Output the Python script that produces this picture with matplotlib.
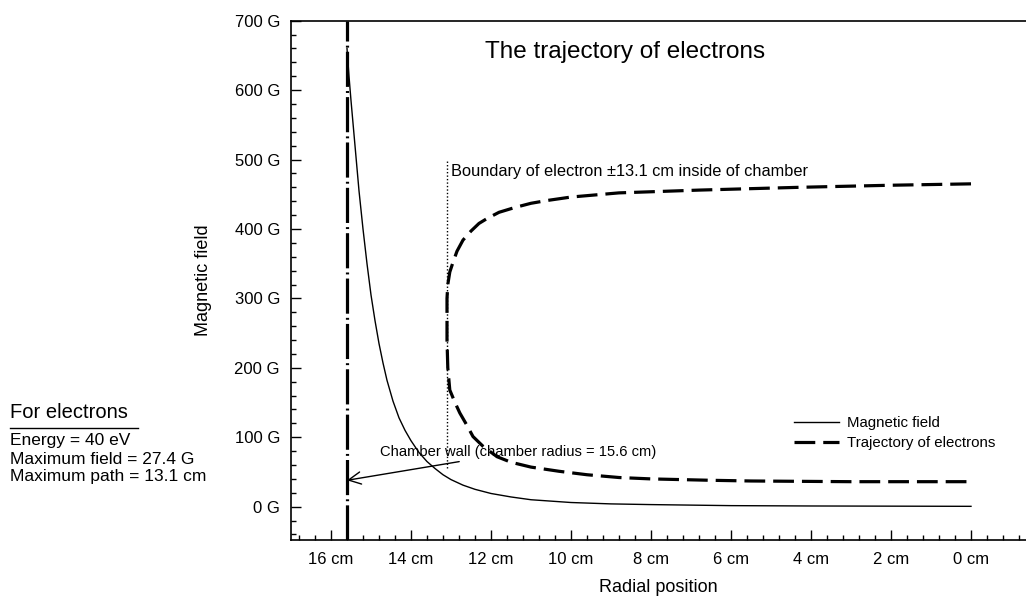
import numpy as np
import matplotlib.pyplot as plt
from matplotlib.ticker import MultipleLocator, FuncFormatter

plt.rcParams['font.family'] = ['Liberation Sans', 'DejaVu Sans']

# Magnetic field along the radius (cm, G)
field_r = [15.6, 15.55, 15.5, 15.4, 15.3, 15.2, 15.1, 15.0, 14.9, 14.8, 14.7, 14.6, 14.45, 14.3, 14.15,
           14.0, 13.8, 13.6, 13.4, 13.2, 13.0, 12.7, 12.4, 12.0, 11.5, 11.0, 10.5, 10.0, 9.0, 8.0, 6.0, 4.0, 0.0]
field_b = [660, 620, 585, 520, 455, 400, 350, 305, 268, 235, 207, 182, 152, 128, 110,
           95, 78, 65, 55, 46, 39, 31, 25, 19, 14, 10, 8, 6, 4, 3, 1.5, 1, 0.5]

# Electron trajectory: upper branch from the centre in, down the boundary, lower branch back out
traj_r = [0.0, 2.0, 4.3, 6.8, 8.8, 10.0, 10.6, 11.0, 11.4, 11.8, 12.1, 12.3, 12.5, 12.7, 12.85, 12.95,
          13.03, 13.08, 13.1, 13.1, 13.08, 13.03, 12.9, 12.78, 12.6, 12.45, 12.2, 11.85, 11.5, 11.0,
          10.3, 9.6, 8.8, 8.0, 6.5, 5.5, 3.0, 0.0]
traj_b = [465, 463, 460, 456, 452, 446, 441, 437, 431, 424, 415, 408, 397, 384, 368, 352,
          338, 320, 300, 240, 200, 168, 150, 135, 117, 101, 87, 72, 64, 57,
          51, 46, 42, 40, 38, 37, 36, 36]

wall_r = 15.6
boundary_r = 13.1
boundary_b = [55, 500]

x_ticks = [16, 14, 12, 10, 8, 6, 4, 2, 0]
y_ticks = [0, 100, 200, 300, 400, 500, 600, 700]

info_lines = ['Energy = 40 eV', 'Maximum field = 27.4 G', 'Maximum path = 13.1 cm']

fig = plt.figure(figsize=(10.26, 6.04), dpi=100)
ax = fig.add_axes([291 / 1026, 1 - 540 / 604, 1 - 291 / 1026, (540 - 20.7) / 604])

ax.plot(field_r, field_b, color='black', lw=1.0, label='Magnetic field')
ax.plot(traj_r, traj_b, color='black', lw=2.3, dashes=(6.5, 2.5), label='Trajectory of electrons')

# chamber wall and electron boundary
ax.axvline(wall_r, color='black', lw=2.3, dashes=(11, 1.3, 0.6, 1.3))
ax.plot([boundary_r, boundary_r], boundary_b, color='black', lw=1.0, ls=(0, (1, 1.5)))

ax.set_xlim(17.0, -1.375)
ax.set_ylim(-48, 700)

ax.xaxis.set_minor_locator(MultipleLocator(0.4))
ax.yaxis.set_minor_locator(MultipleLocator(20))
ax.set_xticks(x_ticks)
ax.set_yticks(y_ticks)
ax.xaxis.set_major_formatter(FuncFormatter(lambda v, p: f'{v:.0f} cm'))
ax.yaxis.set_major_formatter(FuncFormatter(lambda v, p: f'{v:.0f} G'))
ax.tick_params(which='both', direction='in', top=False, right=False, width=1.0, labelsize=12)
ax.tick_params(which='major', length=7)
ax.tick_params(which='minor', length=3.5)
ax.tick_params(axis='y', pad=8)
ax.tick_params(axis='x', pad=9)
ax.spines['right'].set_visible(False)
for s in ['left', 'top', 'bottom']:
    ax.spines[s].set_linewidth(1.2)

ax.set_xlabel('Radial position', fontsize=13, labelpad=8)
ax.set_ylabel('Magnetic field', fontsize=13, labelpad=16)

ax.text(0.264, 0.94, 'The trajectory of electrons', transform=ax.transAxes, fontsize=17.5, va='center')
ax.text(13.0, 483, 'Boundary of electron \u00b113.1 cm inside of chamber', fontsize=11.8, va='center')
ax.annotate('Chamber wall (chamber radius = 15.6 cm)', xy=(15.6, 38), xytext=(14.78, 79),
            fontsize=10.6, va='center',
            arrowprops=dict(arrowstyle='->', color='black', lw=1.0, shrinkA=0, shrinkB=0,
                            mutation_scale=22))

ax.legend(loc='upper left', bbox_to_anchor=(0.685, 0.238), frameon=False, fontsize=10.8,
          handlelength=3.0, handletextpad=0.5, labelspacing=0.4, borderpad=0, borderaxespad=0)

fig.text(10 / 1026, 1 - 413 / 604, 'For electrons', fontsize=14.5, va='center')
fig.add_artist(plt.Line2D([10 / 1026, 138 / 1026], [1 - 428 / 604] * 2, color='black', lw=1.0))
for i, line in enumerate(info_lines):
    fig.text(10 / 1026, 1 - (441 + 18 * i) / 604, line, fontsize=12.5, va='center')

fig.savefig('out.png', dpi=100)
